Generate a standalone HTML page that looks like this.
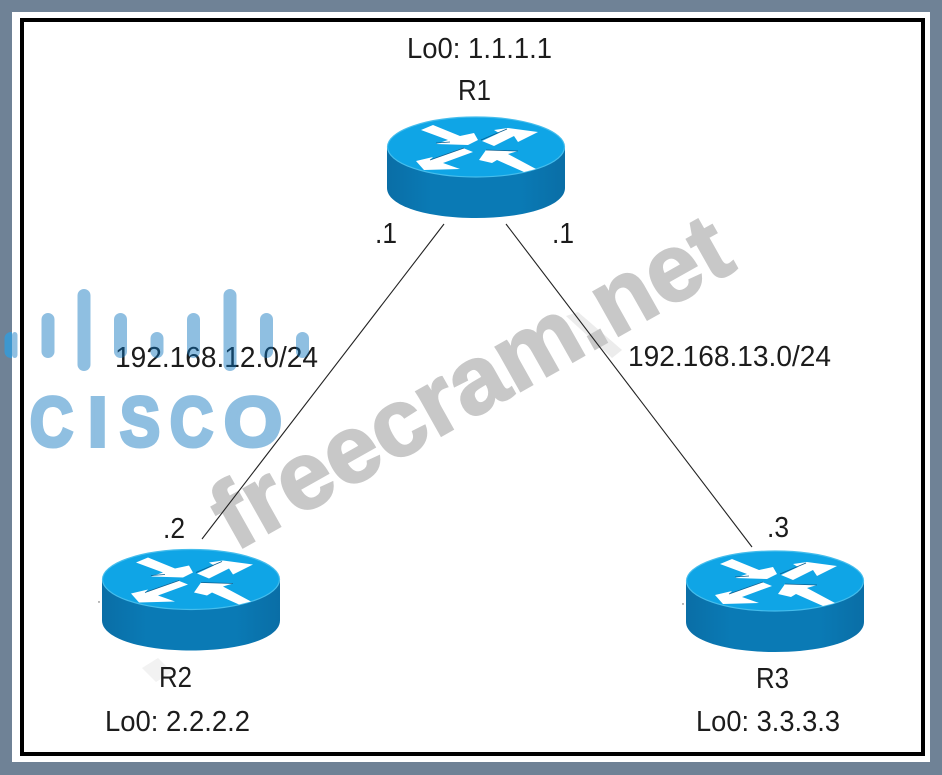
<!DOCTYPE html>
<html><head><meta charset="utf-8"><style>
html,body{margin:0;padding:0;background:#fff}
svg{display:block}
.t{font-family:"Liberation Sans",sans-serif;font-size:29px;fill:#1c1c1c}
</style></head><body>
<svg width="942" height="775" viewBox="0 0 942 775" xmlns="http://www.w3.org/2000/svg">
<defs>
<linearGradient id="side" x1="0" x2="1" y1="0" y2="0">
<stop offset="0" stop-color="#0a6ea6"/><stop offset=".25" stop-color="#0a7ab5"/><stop offset=".75" stop-color="#0a7ab5"/><stop offset="1" stop-color="#0a6ea6"/>
</linearGradient>
<g id="router">
<path d="M-89 0V41C-89 59 -49 71 0 71S89 59 89 41V0Z" fill="url(#side)"/>
<ellipse cx="0" cy="0" rx="88.5" ry="30" fill="#0fa5e6" stroke="#45bdec" stroke-width="1.2"/>
<g fill="#fff">
<polygon points="-55,-17 -43,-22 -16,-11 -2,-14 2,-7 -8,-2 -40,-3 -28,-7"/>
<polygon points="6,-6 23,-14 18,-17 32,-19 62,-15 42,-5 38,-11 18,-1"/>
<polygon points="-60,14 -43,10 -46,13 -13,1 -3,5 -33,16 -16,22 -52,23"/>
<polygon points="3,13 10,3 42,4 32,7 60,22 48,25 21,13 16,16"/>
</g>
<g stroke="#0a5f90" stroke-width=".8" fill="none">
<path d="M5 -7L31 -18M-46 13L-12 1M10 3L42 4M-40 -4L-26 -5"/>
</g>
</g>
</defs>
<rect width="942" height="775" fill="#6f8296"/>
<rect x="12" y="12" width="918" height="750" fill="#fff"/>
<rect x="22" y="20" width="901" height="734" fill="#fff" stroke="#000" stroke-width="4"/>

<polygon points="566,316 578,312 622,350 612,358" fill="#ececec"/>
<polygon points="142,668 158,658 172,672 156,682" fill="#f2f2f2"/>

<g transform="translate(235,552) rotate(-29.4)">
<text x="0" y="0" font-family="Liberation Sans" font-weight="700" font-size="96" fill="#c8c8c8" stroke="#c8c8c8" stroke-width="2" textLength="578" lengthAdjust="spacingAndGlyphs">freecram.net</text>
</g>

<line x1="444" y1="224" x2="202" y2="539" stroke="#222" stroke-width="1.1"/>
<line x1="506" y1="224" x2="752" y2="547" stroke="#222" stroke-width="1.1"/>

<use href="#router" x="476" y="147"/>
<use href="#router" x="191" y="579.5"/>
<use href="#router" x="775" y="581"/>

<circle cx="99" cy="602" r=".7" fill="#555"/>
<circle cx="683" cy="604" r=".7" fill="#555"/>

<text class="t" x="407" y="58" textLength="145" lengthAdjust="spacingAndGlyphs">Lo0: 1.1.1.1</text>
<text class="t" x="458" y="100" textLength="33" lengthAdjust="spacingAndGlyphs">R1</text>
<text class="t" x="375" y="243" textLength="22" lengthAdjust="spacingAndGlyphs">.1</text>
<text class="t" x="552" y="243" textLength="22" lengthAdjust="spacingAndGlyphs">.1</text>
<text class="t" x="115" y="367" textLength="203" lengthAdjust="spacingAndGlyphs">192.168.12.0/24</text>
<text class="t" x="628" y="366" textLength="203" lengthAdjust="spacingAndGlyphs">192.168.13.0/24</text>
<text class="t" x="163" y="538" textLength="22" lengthAdjust="spacingAndGlyphs">.2</text>
<text class="t" x="767" y="537" textLength="22" lengthAdjust="spacingAndGlyphs">.3</text>
<text class="t" x="159" y="687" textLength="33" lengthAdjust="spacingAndGlyphs">R2</text>
<text class="t" x="756" y="688" textLength="33" lengthAdjust="spacingAndGlyphs">R3</text>
<text class="t" x="105" y="731" textLength="145" lengthAdjust="spacingAndGlyphs">Lo0: 2.2.2.2</text>
<text class="t" x="696" y="731" textLength="144" lengthAdjust="spacingAndGlyphs">Lo0: 3.3.3.3</text>

<g opacity=".45" fill="#0a72bd" stroke="none">
<rect x="12" y="332" width="5.5" height="26" fill="#0a72bd" rx="3"/>
<rect x="41.5" y="313" width="13" height="45" rx="6.5"/>
<rect x="77.5" y="289" width="13" height="82" rx="6.5"/>
<rect x="114" y="313" width="13" height="45" rx="6.5"/>
<rect x="150.5" y="332" width="13" height="26" rx="6.5"/>
<rect x="187" y="313" width="13" height="45" rx="6.5"/>
<rect x="223.5" y="289" width="13" height="82" rx="6.5"/>
<rect x="260" y="313" width="13" height="45" rx="6.5"/>
<rect x="296" y="332" width="13" height="26" rx="6.5"/>
<g font-family="Liberation Sans" font-weight="700" font-size="70" stroke="#0a72bd" stroke-width="4">
<text x="30" y="446" textLength="43" lengthAdjust="spacingAndGlyphs">C</text>
<text x="88" y="446">I</text>
<text x="120" y="446" textLength="40" lengthAdjust="spacingAndGlyphs">S</text>
<text x="170" y="446" textLength="43" lengthAdjust="spacingAndGlyphs">C</text>
<text x="224" y="446" textLength="58" lengthAdjust="spacingAndGlyphs">O</text>
</g>
</g>
<path d="M12 332h-1a6.500 6.500 0 0 0 -6.500 6.500v13a6.500 6.500 0 0 0 6.500 6.500h1z" fill="#3d97cf"/>
</svg>
</body></html>
